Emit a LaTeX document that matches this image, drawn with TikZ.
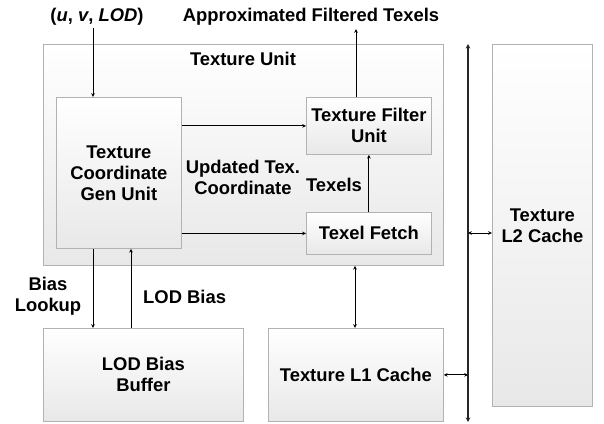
\documentclass[tikz,border=0pt]{standalone}
\usepackage{fontspec}
\setmainfont{Liberation Sans}
\usetikzlibrary{arrows.meta}
\begin{document}
\begin{tikzpicture}[x=1pt,y=-1pt,
  every node/.style={font=\bfseries\fontsize{18.4}{21}\selectfont, inner sep=0pt},
  blk/.style={draw=black!30, line width=0.8pt, top color=white, bottom color=black!9,
    anchor=north west, align=center},
  lbl/.style={align=center},
  conn/.style={line width=0.9pt, -{Stealth[length=3.8pt,width=3.6pt]}},
  biconn/.style={line width=0.9pt, {Stealth[length=3.8pt,width=3.6pt]}-{Stealth[length=3.8pt,width=3.6pt]}},
  busline/.style={line width=1.6pt, black!85, {Stealth[length=4.5pt,width=4.5pt]}-{Stealth[length=4.5pt,width=4.5pt]}}]
\useasboundingbox (0,0) rectangle (604,423);

% functional blocks
\node[blk, minimum width=400pt, minimum height=221pt] (tu) at (43,44) {};
\node[blk, minimum width=125pt, minimum height=151pt] (tcg) at (56,97) {Texture\\Coordinate\\Gen Unit};
\node[blk, minimum width=125pt, minimum height=57pt] (tfu) at (306,97) {Texture Filter\\Unit};
\node[blk, minimum width=125pt, minimum height=42pt] (tf) at (306,212) {Texel Fetch};
\node[blk, minimum width=200pt, minimum height=93pt] (lod) at (43,328) {LOD Bias\\Buffer};
\node[blk, minimum width=175pt, minimum height=93pt] (l1) at (268,328) {Texture L1 Cache};
\node[blk, minimum width=100pt, minimum height=362pt] (l2) at (492,44) {Texture\\L2 Cache};

% labels
\node[lbl] (tulbl) at (243,59) {Texture Unit};
\node[lbl] (inlbl) at (97,17) {(\textit{u}, \textit{v}, \textit{LOD})};
\node[lbl] (outlbl) at (311,17) {Approximated Filtered Texels};
\node[lbl] (updlbl) at (243,177) {Updated Tex.\\Coordinate};
\node[lbl] (texlbl) at (334,185) {Texels};
\node[lbl] (biaslbl) at (48,296) {Bias\\Lookup};
\node[lbl, anchor=west] (lodlbl) at (143,297) {LOD Bias};

% free ends and bus
\coordinate (inS) at (93,28);
\coordinate (outE) at (356,29);
\coordinate (busT) at (468,44);
\coordinate (busB) at (468,422);
\coordinate (downX) at (93,0);
\coordinate (upX) at (131,0);
\coordinate (l1X) at (355,0);
\coordinate (l2Y) at (0,233);

% connectors
\draw[conn] (inS) -- (inS |- tcg.north);
\draw[conn] (outE |- tfu.north) -- (outE);
\draw[conn] (tcg.east |- tfu.west) -- (tfu.west);
\draw[conn] (tcg.east |- tf.west) -- (tf.west);
\draw[conn] (tf.north) -- (tfu.south);
\draw[conn] (downX |- tcg.south) -- (downX |- lod.north);
\draw[conn] (upX |- lod.north) -- (upX |- tcg.south);
\draw[biconn] (l1X |- tu.south) -- (l1X |- l1.north);
\draw[busline] (busT) -- (busB);
\draw[biconn] (l1.east) -- (l1.east -| busT);
\draw[biconn] (busT |- l2Y) -- (l2.west |- l2Y);
\end{tikzpicture}
\end{document}
